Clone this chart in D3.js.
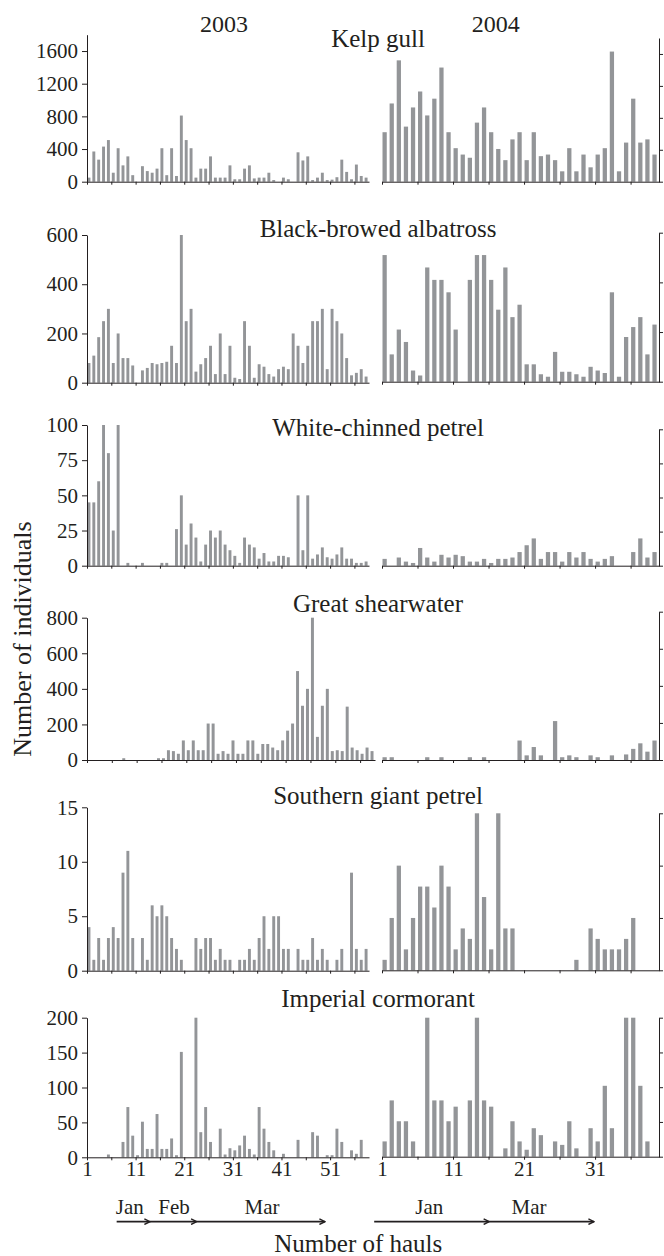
<!DOCTYPE html>
<html>
<head>
<meta charset="utf-8">
<script src="https://cdn.jsdelivr.net/npm/d3@7"></script>
<style>
  body { margin: 0; background: #fff; }
  svg text { font-family: "Liberation Serif", "Times New Roman", "DejaVu Serif", serif; fill: #231f20; }
</style>
</head>
<body>
<div id="chart"></div>
<script>
// panels, top to bottom
var species = ["Kelp gull", "Black-browed albatross", "White-chinned petrel",
  "Great shearwater", "Southern giant petrel", "Imperial cormorant"];
var years = ["2003", "2004"];
var nHauls2003 = 58;
var nHauls2004 = 39;

// number of individuals per haul (2003: 58 hauls, 2004: 39 hauls)
var kelpGull2003 = [50,370,270,430,510,110,410,200,310,80,0,190,130,110,160,410,80,410,70,810,
  510,410,50,160,160,310,50,50,50,200,30,30,160,200,40,50,50,110,20,0,
  50,30,0,360,260,310,20,50,110,20,25,55,270,120,30,210,70,50];
var kelpGull2004 = [620,980,1520,690,930,1130,830,1040,1430,620,420,340,300,740,930,620,410,270,530,620,
  270,620,320,340,270,130,420,130,340,180,340,420,1630,130,490,1040,490,530,340];

var albatross2003 = [80,110,185,250,300,80,200,100,100,70,0,50,60,80,75,80,85,150,80,600,
  250,300,45,75,100,150,35,200,35,150,20,15,250,150,20,75,65,35,25,55,
  65,55,200,150,80,150,250,250,300,55,300,250,200,100,30,40,55,25];
var albatross2004 = [510,110,210,160,45,25,460,410,410,360,210,0,410,510,510,410,290,460,260,310,
  70,70,30,20,120,40,40,30,20,60,45,35,360,20,180,220,260,110,230];

var petrel2003 = [45,45,60,100,80,25,100,0,2,0,0,2,0,0,0,2,2,0,26,50,
  15,30,20,3,15,25,20,25,15,11,7,2,20,15,13,5,9,3,3,7,
  7,6,0,50,11,50,5,8,13,6,5,8,13,5,5,2,2,3];
var petrel2004 = [5,0,6,3,2,13,6,3,8,6,8,7,3,3,5,2,5,5,6,10,
  15,20,5,10,10,3,10,6,10,5,3,5,7,0,0,10,20,6,10];

var shearwater2003 = [0,0,0,0,0,0,0,10,0,0,0,0,0,0,10,10,55,50,35,110,
  55,110,55,55,205,205,35,50,35,110,35,35,110,110,35,90,90,70,55,110,
  165,205,500,305,400,800,130,305,400,50,55,50,300,70,55,35,70,50];
var shearwater2004 = [15,15,0,0,0,0,15,0,15,0,0,0,15,0,15,0,0,0,0,105,
  25,70,25,0,210,15,25,15,0,25,15,0,25,0,30,60,90,45,105];

var giantPetrel2003 = [4,1,3,1,3,4,3,9,11,3,0,3,1,6,5,6,5,3,2,1,
  0,0,3,2,3,3,1,2,1,1,0,1,1,2,1,3,5,2,5,5,
  2,2,0,2,1,1,3,1,2,1,0,1,2,0,9,2,1,2];
var giantPetrel2004 = [1,5,10,2,5,8,8,6,10,8,2,4,3,15,7,2,15,4,4,0,
  0,0,0,0,0,0,0,1,0,4,3,2,2,2,3,5,0,0,0];

var cormorant2003 = [0,0,0,0,4,0,0,22,72,31,3,51,12,12,62,12,12,27,3,151,
  0,0,200,36,72,22,0,41,4,13,10,17,31,12,4,72,41,22,10,0,
  5,0,0,25,0,0,36,31,0,3,3,41,22,0,10,5,25,0];
var cormorant2004 = [22,81,51,51,22,0,200,81,81,51,72,0,81,200,81,72,0,12,51,22,
  10,41,31,0,22,17,51,12,0,41,22,102,41,0,200,200,102,22,0];

// y axis ticks and axis top per panel
var yTicks = [[0,400,800,1200,1600], [0,200,400,600], [0,25,50,75,100],
  [0,200,400,600,800], [0,5,10,15], [0,50,100,150,200]];
var yMax = [1800, 600, 100, 800, 15, 200];

// month periods, in haul units
var months2003 = ["Jan", "Feb", "Mar"];
var monthBreaks2003 = [7.1, 13.95, 23.56, 49.95];
var monthLabelAt2003 = [9.8, 18.9, 37.0];
var months2004 = ["Jan", "Mar"];
var monthBreaks2004 = [-0.1, 16.1, 30.85];
var monthLabelAt2004 = [7.65, 21.7];

var counts2003 = [kelpGull2003, albatross2003, petrel2003, shearwater2003, giantPetrel2003, cormorant2003];
var counts2004 = [kelpGull2004, albatross2004, petrel2004, shearwater2004, giantPetrel2004, cormorant2004];

// layout (pixels)
var width = 664, height = 1256;
var x03Start = 87, x04Start = 382, x04End = 659;
var x03End = [369, 369, 369, 375, 369, 369];
var base03 = [181.7, 382.7, 565.7, 760, 970.7, 1157.3];
var top03 = [34.7, 235, 425, 617.7, 807.3, 1017.7];
var base04 = [181.7, 381.7, 565.7, 760, 970.3, 1156.7];
var top04 = [38, 232.7, 429.3, 611.7, 813.3, 1017.7];
var titleY = [46.7, 236.7, 435.7, 611.7, 804, 1006.7];
var barColor = "#939598";
var ink = "#231f20";

var svg = d3.select("#chart").append("svg")
  .attr("width", width)
  .attr("height", height);

function drawBars(g, values, x, y) {
  var bw = (x(2) - x(1)) * 0.6;
  g.selectAll(null)
    .data(values)
    .enter().append("rect")
    .attr("x", function(d, j) { return x(j + 1) + 0.5; })
    .attr("y", function(d) { return y(d); })
    .attr("width", bw)
    .attr("height", function(d) { return y(0) - y(d); })
    .attr("fill", barColor);
}

function styleAxis(sel, size) {
  sel.attr("font-family", null).attr("font-size", null).attr("color", ink);
  sel.selectAll("text").style("font-size", size + "px");
  sel.select(".domain").attr("stroke-width", 1);
}

function drawPanel(i) {
  var last = i === species.length - 1;
  var xa = d3.scaleLinear().domain([1, nHauls2003 + 1]).range([x03Start, x03End[i]]);
  var xb = d3.scaleLinear().domain([1, nHauls2004 + 1]).range([x04Start, x04End]);
  var ya = d3.scaleLinear().domain([0, yMax[i]]).range([base03[i], top03[i]]);
  var yb = d3.scaleLinear().domain([0, yMax[i]]).range([base04[i], top04[i]]);
  var g = svg.append("g");

  drawBars(g, counts2003[i], xa, ya);
  drawBars(g, counts2004[i], xb, yb);

  // bottom axes, a tick every 5 hauls, labels every 10 on the last panel
  var fmt = function(d) { return last && (d - 1) % 10 === 0 ? d : ""; };
  g.append("g")
    .attr("transform", "translate(0," + base03[i] + ")")
    .call(d3.axisBottom(xa).tickValues(d3.range(1, nHauls2003, 5))
      .tickSize(3).tickSizeOuter(0).tickPadding(1).tickFormat(fmt))
    .call(styleAxis, 21);
  g.append("g")
    .attr("transform", "translate(0," + base04[i] + ")")
    .call(d3.axisBottom(xb).tickValues(d3.range(1, nHauls2004, 5))
      .tickSize(3).tickSizeOuter(0).tickPadding(1).tickFormat(fmt))
    .call(styleAxis, 21);

  // left axis with labels, right axis ticks only
  g.append("g")
    .attr("transform", "translate(" + x03Start + ",0)")
    .call(d3.axisLeft(ya).tickValues(yTicks[i]).tickSize(5).tickSizeOuter(0)
      .tickPadding(4).tickFormat(d3.format("d")))
    .call(styleAxis, 21);
  g.append("g")
    .attr("transform", "translate(" + x04End + ",0)")
    .call(d3.axisRight(yb).tickValues(yTicks[i]).tickSize(4).tickSizeOuter(0).tickFormat(""))
    .call(styleAxis, 21);

  g.append("text")
    .attr("x", 378)
    .attr("y", titleY[i])
    .attr("text-anchor", "middle")
    .style("font-size", "25px")
    .text(species[i]);

  if (last) {
    var arrowY = base03[i] + 64.4;
    var labelY = base03[i] + 57;
    drawMonths(months2003, monthBreaks2003, monthLabelAt2003, xa, arrowY, labelY);
    drawMonths(months2004, monthBreaks2004, monthLabelAt2004, xb, arrowY, labelY);
  }
}

svg.append("defs").append("marker")
  .attr("id", "head")
  .attr("viewBox", "0 -5 10 10")
  .attr("refX", 9)
  .attr("refY", 0)
  .attr("markerWidth", 7)
  .attr("markerHeight", 7)
  .attr("markerUnits", "userSpaceOnUse")
  .attr("orient", "auto")
  .append("path")
  .attr("d", "M1,-4L9,0L1,4")
  .attr("fill", "none")
  .attr("stroke", ink)
  .attr("stroke-width", 2);

function drawMonths(names, breaks, labelAt, x, arrowY, labelY) {
  var g = svg.append("g");
  g.selectAll("line")
    .data(names)
    .enter().append("line")
    .attr("x1", function(d, j) { return x(breaks[j]); })
    .attr("x2", function(d, j) { return x(breaks[j + 1]); })
    .attr("y1", arrowY)
    .attr("y2", arrowY)
    .attr("stroke", ink)
    .attr("stroke-width", 1.8)
    .attr("marker-end", "url(#head)");
  g.selectAll("text")
    .data(names)
    .enter().append("text")
    .attr("x", function(d, j) { return x(labelAt[j]); })
    .attr("y", labelY)
    .attr("text-anchor", "middle")
    .style("font-size", "21px")
    .text(function(d) { return d; });
}

species.forEach(function(s, i) { drawPanel(i); });

// year headers
svg.selectAll(".year")
  .data(years)
  .enter().append("text")
  .attr("class", "year")
  .attr("x", function(d, j) { return j === 0 ? 224 : 495.7; })
  .attr("y", 32.3)
  .attr("text-anchor", "middle")
  .style("font-size", "24px")
  .text(function(d) { return d; });

// axis titles
svg.append("text")
  .attr("transform", "translate(31,639) rotate(-90)")
  .attr("text-anchor", "middle")
  .style("font-size", "26px")
  .text("Number of individuals");

svg.append("text")
  .attr("x", 358.3)
  .attr("y", 1252)
  .attr("text-anchor", "middle")
  .style("font-size", "25px")
  .text("Number of hauls");
</script>
</body>
</html>
